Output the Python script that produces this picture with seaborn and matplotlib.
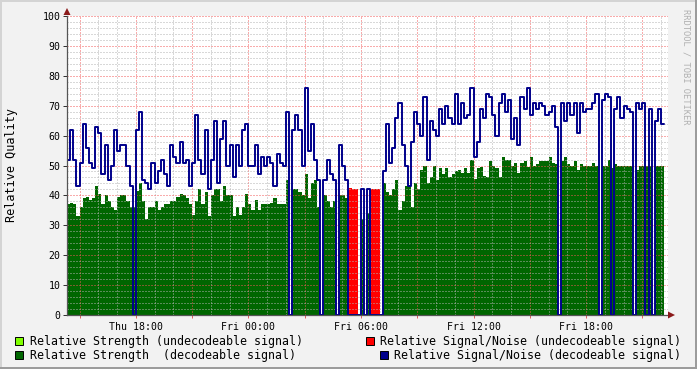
import numpy as np
import pandas as pd
import matplotlib
matplotlib.use("Agg")
import matplotlib.pyplot as plt
import matplotlib.dates as mdates
import matplotlib.ticker as mticker
from matplotlib.patches import Rectangle, Polygon
from matplotlib.lines import Line2D
import seaborn as sns

# ---------------- data (10-minute samples) ----------------
start_time = "2023-06-15 14:20"   # a Thursday
step = "10min"

strength_decodeable = [
    37, 37.5, 37, 33, 36, 39, 39.5, 38.5, 39, 43,
    40.5, 37, 40, 38, 36, 35, 39.5, 40, 40, 38,
    36, 36, 41.5, 44, 38, 32, 36, 36, 38, 35,
    36, 37, 37, 38, 38, 39.5, 40.5, 40, 39,
    37, 33.5, 38, 42, 37, 41, 33, 40, 42, 42, 38,
    43, 40, 40, 33, 36, 33.5, 36, 40.5, 37, 35,
    38.5, 35, 37, 37, 37, 37.5, 39, 37, 37, 37,
    45, 0, 42, 42, 41, 40, 47, 39, 44, 45,
    36, 0, 40, 38, 36, 38, 0, 40, 40, 39,
    0, 0, 0, 0, 32, 0, 34, 0, 0, 0,
    0, 44, 41, 40, 42, 45, 35, 38, 43, 43,
    36, 44, 42, 48.5, 50, 44, 46, 50, 45, 49,
    47, 49, 46, 47, 48, 48.5, 47.5, 49, 47.5, 52,
    45.5, 49, 49.5, 46.5, 46, 51.5, 50, 49, 46, 53,
    52, 52, 50, 51, 47.5, 51, 51.5, 49.5, 53, 50,
    50.5, 51.5, 51.5, 51.5, 53, 51, 50.5, 0, 51.5, 53,
    50.5, 50, 51.5, 48.5, 50.5, 50, 50, 50, 51, 50,
    0, 50, 50, 52, 49, 50.5, 50, 50, 50, 50,
    50, 0, 48.5, 50, 50, 50, 50, 0, 50, 50, 50,
]

snr_decodeable = [
    52, 62, 52, 43, 51, 64, 56, 51, 49, 63,
    61, 47, 57, 45, 50, 62, 55, 57, 57, 50,
    43, 0, 62, 68, 45, 44, 42, 51, 44, 48,
    52, 47, 43, 57, 53, 51, 58, 51, 52,
    43, 51, 67, 52, 47, 62, 42, 52, 65, 44, 59,
    65, 50, 57, 46, 57, 50, 62, 64, 50, 50,
    57, 47, 53, 50, 53, 51, 43, 54, 51, 50,
    68, 0, 62, 67, 62, 50, 76, 55, 64, 52,
    45, 0, 45, 52, 47, 45, 0, 57, 50, 45,
    0, 0, 0, 0, 42, 0, 42, 0, 0, 0,
    0, 48, 64, 51, 56, 66, 71, 57, 50, 43,
    58, 68, 64, 60, 73, 52, 65, 62, 60, 69,
    64, 70, 66, 64, 74, 64, 71, 66, 67, 76,
    53, 58, 69, 66, 74, 73, 67, 60, 71, 74,
    68, 72, 59, 66, 57, 73, 69, 76, 67, 71,
    69, 71, 70, 67, 68, 70, 63, 0, 71, 65,
    71, 67, 71, 61, 71, 68, 69, 69, 71, 74,
    0, 72, 74, 73, 0, 69, 73, 66, 70, 69,
    68, 0, 71, 69, 71, 0, 69, 0, 65, 69, 64,
]

# sparse series: {sample index: value}
snr_undecodeable_pts = {86: 49, 90: 42.5, 91: 42, 92: 42, 93: 42, 95: 49,
                        97: 42, 98: 42, 99: 42, 100: 42,
                        157: 59.5, 170: 74, 181: 67.5, 187: 71.5}
strength_undecodeable_pts = {4: 1.5, 15: 1.5, 53: 2, 101: 2}

labels = ["Relative Strength (undecodeable signal)",
          "Relative Strength  (decodeable signal)",
          "Relative Signal/Noise (undecodeable signal)",
          "Relative Signal/Noise (decodeable signal)"]
colors = ["#80ff00", "#006600", "#ff0000", "#00008b"]

# ---------------- build series ----------------
n = len(snr_decodeable)
g = np.array(strength_decodeable, float)
b = np.array(snr_decodeable, float)
r = np.zeros(n)
for k, v in snr_undecodeable_pts.items():
    r[k] = v
lg = np.zeros(n)
for k, v in strength_undecodeable_pts.items():
    lg[k] = v

edges = pd.date_range(start_time, periods=n + 1, freq=step)
ext = lambda a: np.append(a, a[-1])

# ---------------- figure ----------------
W, H = 697, 369
BG = "#f2f2f2"
sns.set_theme(style="white")
plt.rcParams["font.family"] = ["DejaVu Sans Mono"]

fig = plt.figure(figsize=(W / 100, H / 100), dpi=100, facecolor=BG)
ax = fig.add_axes([67 / W, 1 - 315 / H, (668 - 67) / W, (315 - 16) / H])
ax.set_facecolor("white")

ax.fill_between(edges, 0, ext(g), step="post", color=colors[1], lw=0, zorder=1)
ax.fill_between(edges, ext(g), ext(g + lg), step="post", where=ext(lg) > 0,
                color=colors[0], lw=0, zorder=1)
ax.fill_between(edges, 0, ext(r), step="post", where=ext(r) > 0,
                color=colors[2], lw=0, zorder=1.1)
sns.lineplot(x=edges, y=ext(b), drawstyle="steps-post", color=colors[3],
             linewidth=1.4, ax=ax, zorder=2, estimator=None, legend=False)

ax.set_xlim(pd.Timestamp("2023-06-15 14:20"), pd.Timestamp("2023-06-16 22:22"))
ax.set_ylim(0, 100)
ax.set_xlabel("")
ax.set_ylabel("")

# axes / ticks
ax.xaxis.set_major_locator(mdates.HourLocator(byhour=range(0, 24, 3)))
ax.xaxis.set_minor_locator(mdates.HourLocator())
ax.xaxis.set_major_formatter(mticker.FuncFormatter(
    lambda v, p: mdates.num2date(v).strftime("%a %H:%M")
    if mdates.num2date(v).hour % 6 == 0 else ""))
ax.yaxis.set_major_locator(mticker.MultipleLocator(10))
ax.yaxis.set_minor_locator(mticker.MultipleLocator(2))

ax.set_axisbelow("line")
ax.grid(which="minor", color=(0.70, 0.70, 0.70, 0.45), linestyle=(0, (1, 2)),
        linewidth=0.72, dash_capstyle="butt")
ax.grid(which="major", color=(0.95, 0.35, 0.35, 0.5), linestyle=(0, (1, 2)),
        linewidth=0.72, dash_capstyle="butt")

for s in ["top", "right"]:
    ax.spines[s].set_visible(False)
for s in ["left", "bottom"]:
    ax.spines[s].set_color("#555555")
    ax.spines[s].set_linewidth(0.9)
    ax.spines[s].set_zorder(3)

ax.tick_params(axis="x", which="major", length=2.5, width=0.72, color="#e06060",
               pad=2.5, labelsize=7.1, labelcolor="black", bottom=True)
ax.tick_params(axis="x", which="minor", length=0)
ax.tick_params(axis="y", which="major", length=3, width=0.72, color="#333333",
               pad=1.8, labelsize=7.1, labelcolor="black", left=True)
ax.tick_params(axis="y", which="minor", length=0)

# arrows on the axes
ax_arrow = "#8b1a1a"
fig.add_artist(Polygon([[675 / W, 1 - 315 / H], [668 / W, 1 - 311.5 / H], [668 / W, 1 - 318.5 / H]],
                       closed=True, transform=fig.transFigure, fc=ax_arrow, ec="none"))
fig.add_artist(Polygon([[67 / W, 1 - 8 / H], [63.5 / W, 1 - 15 / H], [70.5 / W, 1 - 15 / H]],
                       closed=True, transform=fig.transFigure, fc=ax_arrow, ec="none"))

# y label
fig.text(12 / W, 1 - 165 / H, "Relative Quality", rotation=90, ha="center", va="center",
         fontsize=8.5, color="black")

# watermark
fig.text(686 / W, 1 - 67 / H, "RRDTOOL / TOBI OETIKER", rotation=270, ha="center",
         va="center", fontsize=6.3, color="#b0b0b0")

# legend
legend_pos = [(15, 341, 30), (15, 355, 30), (366, 341, 380), (380, 355, 394)]
for (sx, cy, tx), lab, col in zip(legend_pos, labels, colors):
    fig.add_artist(Rectangle((sx / W, 1 - (cy + 4) / H), 8 / W, 8 / H,
                             transform=fig.transFigure, fc=col, ec="black", lw=0.7))
    fig.text(tx / W, 1 - cy / H, lab, ha="left", va="center", fontsize=8.4, color="black")

# 3D frame
light, dark = "#d4d4d4", "#9c9c9c"
fig.add_artist(Line2D([0, 1], [1 - 1 / H, 1 - 1 / H], transform=fig.transFigure, color=light, lw=1.44))
fig.add_artist(Line2D([1 / W, 1 / W], [0, 1], transform=fig.transFigure, color=light, lw=1.44))
fig.add_artist(Line2D([0, 1], [1 / H, 1 / H], transform=fig.transFigure, color=dark, lw=1.44))
fig.add_artist(Line2D([1 - 1 / W, 1 - 1 / W], [0, 1], transform=fig.transFigure, color=dark, lw=1.44))

fig.savefig("out.png", dpi=100, facecolor=BG)
